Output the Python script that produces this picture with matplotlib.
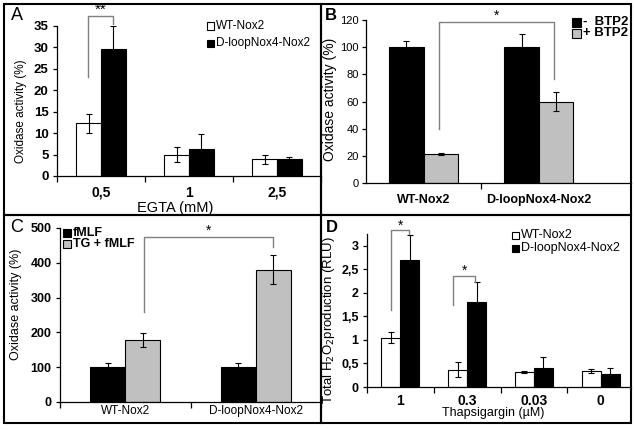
import numpy as np
import matplotlib
matplotlib.use('Agg')
from matplotlib import pyplot as plt
from matplotlib.patches import Rectangle

plt.rcParams['font.family'] = ['Liberation Sans', 'DejaVu Sans']

W, H = 635, 430

# panel A
egta = ['0,5', '1', '2,5']
a_wt = [12.3, 5.0, 3.9]
a_wt_err = [2.2, 1.8, 1.1]
a_dl = [29.7, 6.2, 3.9]
a_dl_err = [5.3, 3.7, 0.5]

# panel B
b_groups = ['WT-Nox2', 'D-loopNox4-Nox2']
b_minus = [100, 100]
b_minus_err = [4.5, 9.7]
b_plus = [21.3, 60]
b_plus_err = [1.0, 7.0]

# panel C
c_groups = ['WT-Nox2', 'D-loopNox4-Nox2']
c_fmlf = [100, 100]
c_fmlf_err = [12, 12]
c_tg = [178, 380]
c_tg_err = [21, 42]

# panel D
thaps = ['1', '0.3', '0.03', '0']
d_wt = [1.05, 0.37, 0.31, 0.34]
d_wt_err = [0.11, 0.16, 0.02, 0.04]
d_dl = [2.69, 1.80, 0.40, 0.27]
d_dl_err = [0.53, 0.42, 0.23, 0.13]

GRAY = '#c0c0c0'
BRK = '#808080'


def fx(x):
    return x / W


def fy(y):
    return 1 - y / H


def add_ax(fig, x0, x1, ytop, ybot):
    ax = fig.add_axes([fx(x0), fy(ybot), (x1 - x0) / W, (ybot - ytop) / H])
    ax.set_facecolor('none')
    for s in ['top', 'right']:
        ax.spines[s].set_visible(False)
    for s in ['left', 'bottom']:
        ax.spines[s].set_linewidth(0.9)
    ax.tick_params(axis='y', direction='out', length=3, width=0.9)
    return ax


def cat_axis(ax, n, labels, xmax, pad, fs, weight):
    ax.set_xlim(-0.5, xmax)
    ax.set_xticks(range(n))
    ax.set_xticklabels(labels, fontsize=fs, fontweight=weight)
    ax.set_xticks([i - 0.5 for i in range(n + 1) if i - 0.5 < xmax + 0.01], minor=True)
    ax.tick_params(axis='x', which='major', length=0, pad=pad)
    ax.tick_params(axis='x', which='minor', length=4, width=0.9, direction='out')


def bars(ax, vals1, err1, vals2, err2, w, c1, c2):
    x = np.arange(len(vals1))
    ekw = dict(elinewidth=0.8, capthick=0.8, ecolor='black')
    ax.bar(x - w / 2, vals1, w, color=c1, edgecolor='black', linewidth=0.8,
           yerr=err1, capsize=2.5, error_kw=ekw, zorder=2)
    ax.bar(x + w / 2, vals2, w, color=c2, edgecolor='black', linewidth=0.8,
           yerr=err2, capsize=2.5, error_kw=ekw, zorder=2)


def bracket(ax, x1, x2, y1, ytop, y2, star, sy, fs=10):
    ax.plot([x1, x1, x2, x2], [y1, ytop, ytop, y2], color=BRK, lw=1, clip_on=False, zorder=3)
    ax.text((x1 + x2) / 2, sy, star, ha='center', va='center', fontsize=fs, clip_on=False)


def legend_box(fig, x, y, dy, size, items, fs, weight):
    # x, y in pixels: left of squares, centre of first row
    for i, (col, lab) in enumerate(items):
        yc = y + i * dy
        fig.add_artist(Rectangle((fx(x), fy(yc + size / 2)), size / W, size / H,
                                 facecolor=col, edgecolor='black', lw=0.8,
                                 transform=fig.transFigure))
        fig.text(fx(x + size + 2), fy(yc), lab, fontsize=fs, fontweight=weight,
                 va='center', ha='left')


fig = plt.figure(figsize=(6.35, 4.30), dpi=100, facecolor='white')

# panel frames
for (x0, y0, x1, y1) in [(4, 4, 321, 215), (321, 4, 631, 215), (4, 215, 321, 423), (321, 215, 631, 423)]:
    fig.add_artist(Rectangle((fx(x0), fy(y1)), (x1 - x0) / W, (y1 - y0) / H, fill=False,
                             edgecolor='black', lw=1.5, transform=fig.transFigure))

# ---- A ----
axA = add_ax(fig, 57, 321, 26, 176)
wA = 0.284
bars(axA, a_wt, a_wt_err, a_dl, a_dl_err, wA, 'white', 'black')
axA.set_ylim(0, 35)
axA.set_yticks(range(0, 36, 5))
axA.set_yticklabels([str(v) for v in range(0, 36, 5)], fontsize=9.5, fontweight='bold')
axA.tick_params(axis='y', pad=3)
cat_axis(axA, 3, egta, 2.5, 7, 10, 'bold')
axA.set_ylabel('Oxidase activity (%)', fontsize=8.5)
axA.yaxis.set_label_coords(-0.112, 0.43)
axA.set_xlabel('EGTA (mM)', fontsize=10.5)
axA.xaxis.set_label_coords(0.447, -0.165)
bracket(axA, -0.145, 0.14, 23, 37.3, 35.5, '**', 38.8, fs=11)
legend_box(fig, 207, 26, 17, 7, [('white', 'WT-Nox2'), ('black', 'D-loopNox4-Nox2')], 8.5, 'normal')
fig.text(fx(11), fy(16), 'A', fontsize=13, va='center', ha='left')

# ---- B ----
axB = add_ax(fig, 366, 631, 20, 183)
wB = 0.3
bars(axB, b_minus, b_minus_err, b_plus, b_plus_err, wB, 'black', GRAY)
axB.set_ylim(0, 120)
axB.set_yticks(range(0, 121, 20))
axB.set_yticklabels([str(v) for v in range(0, 121, 20)], fontsize=8)
axB.tick_params(axis='y', pad=2)
cat_axis(axB, 2, b_groups, 1.8, 8, 9, 'bold')
axB.set_xticks([0.5], minor=True)
axB.set_ylabel('Oxidase activity (%)', fontsize=10)
axB.yaxis.set_label_coords(-0.11, 0.51)
bracket(axB, 0.135, 1.135, 40, 118.5, 76.6, '*', 123)
legend_box(fig, 572, 22, 11, 9, [('black', '-  BTP2'), (GRAY, '+ BTP2')], 9.5, 'bold')
fig.text(fx(325), fy(16), 'B', fontsize=12, fontweight='bold', va='center', ha='left')

# ---- C ----
axC = add_ax(fig, 60, 321, 228, 402)
wC = 0.27
bars(axC, c_fmlf, c_fmlf_err, c_tg, c_tg_err, wC, 'black', GRAY)
axC.set_ylim(0, 500)
axC.set_yticks(range(0, 501, 100))
axC.set_yticklabels([str(v) for v in range(0, 501, 100)], fontsize=9, fontweight='bold')
axC.tick_params(axis='y', pad=3)
cat_axis(axC, 2, c_groups, 1.5, 2, 8.5, 'normal')
axC.set_ylabel('Oxidase activity (%)', fontsize=9)
axC.yaxis.set_label_coords(-0.146, 0.56)
bracket(axC, 0.14, 1.13, 260, 475, 445, '*', 492)
legend_box(fig, 63, 233, 10.5, 8, [('black', 'fMLF'), (GRAY, 'TG + fMLF')], 9, 'bold')
fig.text(fx(10), fy(228), 'C', fontsize=13, va='center', ha='left')

# ---- D ----
axD = add_ax(fig, 367, 631, 234, 387)
wD = 0.285
bars(axD, d_wt, d_wt_err, d_dl, d_dl_err, wD, 'white', 'black')
axD.set_ylim(0, 3.25)
dticks = [0, 0.5, 1, 1.5, 2, 2.5, 3]
axD.set_yticks(dticks)
axD.set_yticklabels(['0', '0,5', '1', '1,5', '2', '2,5', '3'], fontsize=9, fontweight='bold')
axD.tick_params(axis='y', pad=3)
cat_axis(axD, 4, thaps, 3.455, 5, 10, 'bold')
axD.set_ylabel('Total H$_2$O$_2$production (RLU)', fontsize=9.5)
axD.yaxis.set_label_coords(-0.114, 0.44)
axD.set_xlabel('Thapsigargin (\u00b5M)', fontsize=9)
axD.xaxis.set_label_coords(0.477, -0.13)
bracket(axD, -0.14, 0.13, 1.63, 3.33, 3.24, '*', 3.43)
bracket(axD, 0.79, 1.12, 1.74, 2.36, 2.22, '*', 2.47)
legend_box(fig, 512, 235, 13, 7, [('white', 'WT-Nox2'), ('black', 'D-loopNox4-Nox2')], 9, 'normal')
fig.text(fx(326), fy(228), 'D', fontsize=12, fontweight='bold', va='center', ha='left')

plt.savefig('out.png', dpi=100)
